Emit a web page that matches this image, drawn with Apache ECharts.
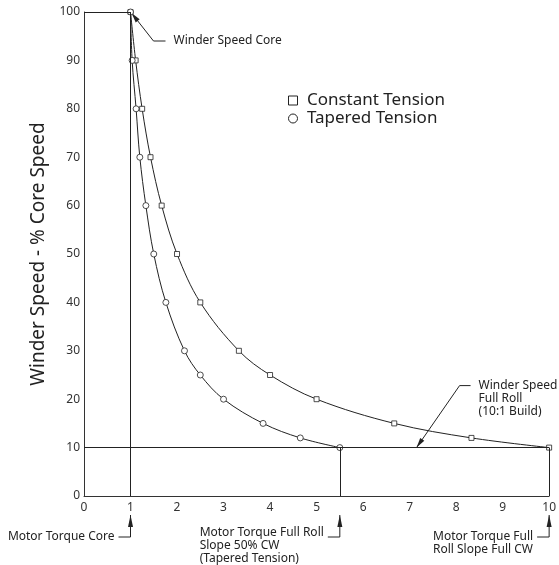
<!DOCTYPE html>
<html>
<head>
<meta charset="utf-8">
<script src="https://cdn.jsdelivr.net/npm/echarts@6/dist/echarts.min.js"></script>
<style>
  html, body { margin: 0; padding: 0; background: #fff; }
  #chart { width: 559px; height: 565px; }
</style>
</head>
<body>
<div id="chart"></div>
<script>
/* 卷取速度 - 电机扭矩曲线 */
// 速度 (% 芯轴速度), 两条曲线共用
const speedPct = [100, 90, 80, 70, 60, 50, 40, 30, 25, 20, 15, 12, 10]
// 恒张力下的电机扭矩
const torqueConstant = [1, 1.11, 1.25, 1.43, 1.67, 2, 2.5, 3.33, 4, 5, 6.67, 8.33, 10]
// 锥度张力下的电机扭矩
const torqueTapered = [1, 1.035, 1.12, 1.2, 1.33, 1.5, 1.76, 2.16, 2.5, 3.0, 3.85, 4.65, 5.5]
const seriesNames = ['Constant Tension', 'Tapered Tension']
const torqueRange = [0, 10]
const speedRange = [0, 100]

// 参考线 (数据坐标)
const guideLines = [
  [[0, 100], [1, 100]],
  [[1, 0], [1, 100]],
  [[0, 10], [10, 10]],
  [[5.5, 0], [5.5, 10]],
  [[10, 0], [10, 10]],
]

// 注释
const coreNote = { at: [1, 100], text: 'Winder Speed Core' }
const fullRollNote = { at: [7.15, 10], text: 'Winder Speed\nFull Roll\n(10:1 Build)' }
const torqueNotes = [
  { x: 1, lines: ['Motor Torque Core'] },
  { x: 5.5, lines: ['Motor Torque Full Roll', 'Slope 50% CW', '(Tapered Tension)'] },
  { x: 10, lines: ['Motor Torque Full', 'Roll Slope Full CW'] },
]

const FONT = '"Noto Sans", "DejaVu Sans", sans-serif'
const INK = '#222'

var myChart = echarts.init(document.getElementById('chart'))

const zip = (xs, ys) => xs.map((x, i) => [x, ys[i]])

// 空心标记
const hollow = { color: '#fff', borderColor: INK, borderWidth: 0.8 }

const option = {
  animation: false,
  textStyle: { fontFamily: FONT },
  grid: { left: 84, right: 5, top: 12, bottom: 69 },
  legend: {
    orient: 'vertical',
    left: 283,
    top: 87,
    itemWidth: 9,
    itemHeight: 9,
    itemGap: 1,
    formatter: (name) => ' ' + name,
    textStyle: { fontSize: 17, color: INK, fontFamily: FONT },
    itemStyle: { color: '#fff', borderColor: INK, borderWidth: 1 },
    data: [
      { name: seriesNames[0], icon: 'rect' },
      { name: seriesNames[1], icon: 'circle' },
    ],
  },
  xAxis: {
    type: 'value',
    min: torqueRange[0],
    max: torqueRange[1],
    interval: 1,
    axisLine: { show: true, lineStyle: { color: '#333', width: 1 } },
    axisTick: { show: false },
    splitLine: { show: false },
    axisLabel: { color: '#333', fontSize: 12, margin: 6, fontFamily: FONT },
  },
  yAxis: {
    type: 'value',
    min: speedRange[0],
    max: speedRange[1],
    interval: 10,
    name: 'Winder Speed - % Core Speed',
    nameLocation: 'middle',
    nameGap: 33,
    nameTextStyle: { fontSize: 19, color: INK, fontFamily: FONT },
    axisLine: { show: true, lineStyle: { color: '#333', width: 1 } },
    axisTick: { show: false },
    splitLine: { show: false },
    axisLabel: { color: '#333', fontSize: 12, margin: 4, fontFamily: FONT },
  },
  series: [
    {
      name: seriesNames[0],
      type: 'line',
      data: zip(torqueConstant, speedPct),
      smooth: 0.35,
      symbol: 'rect',
      symbolSize: 5,
      color: INK,
      lineStyle: { color: INK, width: 1 },
      itemStyle: hollow,
      z: 3,
    },
    {
      name: seriesNames[1],
      type: 'line',
      data: zip(torqueTapered, speedPct),
      smooth: 0.35,
      symbol: 'circle',
      symbolSize: 6,
      color: INK,
      lineStyle: { color: INK, width: 1 },
      itemStyle: hollow,
      z: 3,
      markLine: {
        silent: true,
        symbol: ['none', 'none'],
        label: { show: false },
        lineStyle: { color: INK, width: 1, type: 'solid' },
        data: guideLines.map((l) => [{ coord: l[0] }, { coord: l[1] }]),
      },
    },
  ],
}
myChart.setOption(option)

/* 注释: 箭头与文字 */
const px = (p) => myChart.convertToPixel({ gridIndex: 0 }, p)
const measure = document.createElement('canvas').getContext('2d')
measure.font = '12px ' + FONT

function arrowHead(tip, from, len, hw) {
  const dx = from[0] - tip[0]
  const dy = from[1] - tip[1]
  const d = Math.hypot(dx, dy)
  const ux = dx / d, uy = dy / d
  const bx = tip[0] + ux * len, by = tip[1] + uy * len
  return {
    type: 'polygon',
    silent: true,
    shape: { points: [tip, [bx - uy * hw, by + ux * hw], [bx + uy * hw, by - ux * hw]] },
    style: { fill: INK },
  }
}
function leader(points) {
  return { type: 'polyline', silent: true, shape: { points }, style: { stroke: INK, lineWidth: 1, fill: null } }
}
function label(x, y, text, align, vAlign) {
  return {
    type: 'text',
    silent: true,
    x, y,
    style: { text, font: '12px ' + FONT, fill: INK, align, verticalAlign: vAlign, lineHeight: 13 },
  }
}

const g = []
// Winder Speed Core
{
  const t = px(coreNote.at)
  const tip = [t[0] + 1, t[1] + 1]
  const bend = [tip[0] + 22, tip[1] + 28]
  g.push(leader([tip, bend, [bend[0] + 12, bend[1]]]))
  g.push(arrowHead(tip, bend, 10, 2.5))
  g.push(label(bend[0] + 20, bend[1], coreNote.text, 'left', 'middle'))
}
// Winder Speed Full Roll
{
  const tip = px(fullRollNote.at)
  const bend = [tip[0] + 43, tip[1] - 62]
  g.push(leader([tip, bend, [bend[0] + 11, bend[1]]]))
  g.push(arrowHead(tip, bend, 10, 2.5))
  g.push(label(bend[0] + 19, bend[1] - 6.5, fullRollNote.text, 'left', 'top'))
}
// 底部扭矩注释
torqueNotes.forEach((n) => {
  const b = px([n.x, 0])
  const tip = [b[0], b[1] + 19]
  const foot = [b[0], b[1] + 41]
  const end = [b[0] - 12, foot[1]]
  g.push(leader([tip, foot, end]))
  g.push(arrowHead(tip, foot, 12, 2.5))
  const w = measure.measureText(n.lines[0]).width
  const lift = n.lines.length === 3 ? 4 : 0
  g.push(label(end[0] - 4 - w, foot[1] - 6.5 - lift, n.lines.join('\n'), 'left', 'top'))
})
myChart.setOption({ graphic: g })
</script>
</body>
</html>
